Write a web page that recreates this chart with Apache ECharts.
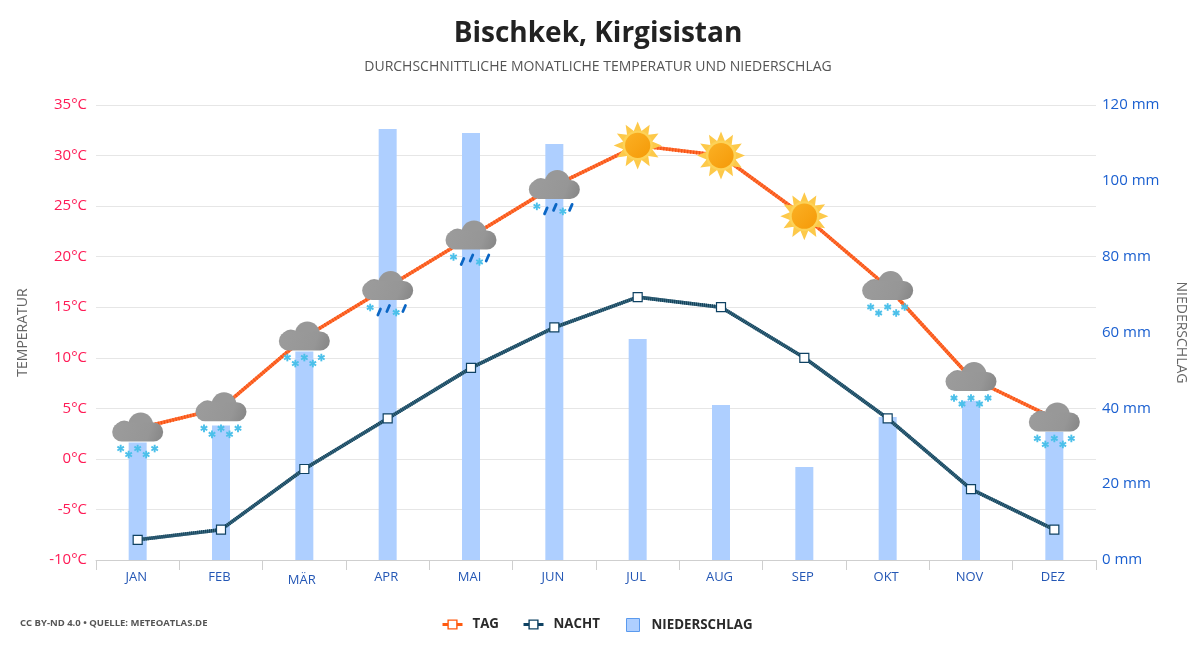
<!DOCTYPE html>
<html><head><meta charset="utf-8">
<style>html,body{margin:0;padding:0;background:#fff}#c{width:1200px;height:650px}</style>
<script src="https://cdn.jsdelivr.net/npm/echarts@6/dist/echarts.min.js"></script>
</head><body><div id="c"></div>
<script>
const months = ['JAN','FEB','MÄR','APR','MAI','JUN','JUL','AUG','SEP','OKT','NOV','DEZ'];
const dayTemps = [3,5,12,17,22,27,31,30,24,17,8,4];
const nightTemps = [-8,-7,-1,4,9,13,16,15,10,4,-3,-7];
const rainfall = [31,35.5,55,113.7,112.6,109.7,58.3,40.9,24.5,37.7,42,33.8];
const weather = ['snow','snow','snow','sleet','sleet','sleet','sun','sun','sun','snow','snow','snow'];

const FONT = '"Open Sans","Noto Sans",sans-serif';

function flake(cx, cy) {
  const r = 3.8, arms = [];
  for (let a = 0; a < 3; a++) {
    const t = a * Math.PI / 3 + Math.PI / 2;
    arms.push({type:'line', shape:{x1:cx - r*Math.cos(t), y1:cy - r*Math.sin(t), x2:cx + r*Math.cos(t), y2:cy + r*Math.sin(t)},
      style:{stroke:'#4cc0ea', lineWidth:1.9}});
  }
  return arms;
}
function drop(cx, cy) {
  return {type:'line', shape:{x1:cx - 1.3, y1:cy + 3, x2:cx + 1.3, y2:cy - 3},
    style:{stroke:'#0b66c4', lineWidth:2.8, lineCap:'round'}};
}
function cloud() {
  const fill = new echarts.graphic.LinearGradient(0, 0, 1, 1, [
    {offset:0, color:'#9c9c9c'}, {offset:.7, color:'#969696'}, {offset:1, color:'#858585'}]);
  const grey = {fill:'#989898'};
  return [
    {type:'circle', shape:{cx:-13.5, cy:1.5, r:9.5}, style:grey},
    {type:'circle', shape:{cx:3, cy:-3.5, r:12.5}, style:grey},
    {type:'rect', shape:{x:-25.5, y:-6, width:51, height:19, r:9.5}, style:{fill:fill}}
  ];
}
function sun() {
  const pts = [];
  for (let i = 0; i < 24; i++) {
    const t = i * Math.PI / 12 - Math.PI / 2, r = i % 2 ? 15 : 24;
    pts.push([r * Math.cos(t), r * Math.sin(t)]);
  }
  return [
    {type:'polygon', shape:{points:pts}, style:{fill:'#fdc94a'}},
    {type:'circle', shape:{cx:0, cy:0, r:15}, style:{fill:'#fdd257'}},
    {type:'circle', shape:{cx:0, cy:0, r:12.6},
     style:{fill:new echarts.graphic.LinearGradient(0,0,1,1,[{offset:0,color:'#fbb024'},{offset:1,color:'#f59a08'}])}}
  ];
}
function icon(kind) {
  if (kind === 'sun') return sun();
  let kids = cloud();
  if (kind === 'snow') {
    kids = kids.concat(flake(-17,20), flake(-9,26), flake(0,20), flake(8.5,26), flake(17,20));
  } else {
    kids = kids.concat(flake(-17.5,20.5), flake(8.5,25.5), drop(-8.5,25), drop(0.5,21.5), drop(16.5,21.5));
  }
  return kids;
}

const chart = echarts.init(document.getElementById('c'), null, {renderer:'canvas'});
chart.setOption({
  animation:false,
  backgroundColor:'#fff',
  textStyle:{fontFamily:FONT},
  title:[
    {text:'Bischkek, Kirgisistan', left:593, textAlign:'center', top:15,
     textStyle:{fontFamily:FONT, fontSize:28, fontWeight:'bold', color:'#222'}},
    {text:'DURCHSCHNITTLICHE MONATLICHE TEMPERATUR UND NIEDERSCHLAG', left:593, textAlign:'center', top:55,
     textStyle:{fontFamily:FONT, fontSize:14, fontWeight:'normal', color:'#555'}},
    {text:'CC BY-ND 4.0 • QUELLE: METEOATLAS.DE', left:15, top:613,
     textStyle:{fontFamily:FONT, fontSize:9.5, fontWeight:'bold', color:'#555'}}
  ],
  grid:{left:96, right:104, top:105, bottom:90, containLabel:false},
  legend:[
    {left:436, top:613, itemWidth:20, itemHeight:11, itemGap:23,
     data:[
       {name:'TAG', itemStyle:{color:'#fff', borderColor:'#ff5a10', borderWidth:1.4}, lineStyle:{color:'#ff5a10', type:'solid', width:3}},
       {name:'NACHT', itemStyle:{color:'#fff', borderColor:'#0f4263', borderWidth:1.4}, lineStyle:{color:'#0f4263', type:'solid', width:3}}
     ],
     textStyle:{fontFamily:FONT, fontSize:13.3, fontWeight:'bold', color:'#2a2a2a', padding:[0,0,0,5]}},
    {left:621, top:613, itemWidth:13, itemHeight:13,
     data:[{name:'NIEDERSCHLAG', icon:'rect', itemStyle:{color:'#aecfff', borderColor:'#5a9aee', borderWidth:1}}],
     textStyle:{fontFamily:FONT, fontSize:13.3, fontWeight:'bold', color:'#2a2a2a', padding:[0,0,0,7]}}
  ],
  xAxis:{type:'category', boundaryGap:true,
    data:months.map(m => m === 'MÄR' ? {value:m, textStyle:{padding:[3,5,0,0]}} : m),
    axisLine:{onZero:false, lineStyle:{color:'#cfcfcf', width:1}},
    axisTick:{show:true, length:10, alignWithLabel:false, lineStyle:{color:'#cfcfcf'}},
    axisLabel:{color:'#2457b5', fontSize:13, margin:11, fontFamily:FONT, interval:0, padding:[0,3,0,0]},
    splitLine:{show:false}},
  yAxis:[
    {type:'value', min:-10, max:35, interval:5,
     name:'TEMPERATUR', nameLocation:'middle', nameGap:66, nameRotate:90,
     nameTextStyle:{color:'#666', fontSize:14, fontFamily:FONT},
     axisLabel:{formatter:'{value}°C', color:'#ff1a55', fontSize:15, margin:9, fontFamily:FONT, padding:[4,0,0,0]},
     axisLine:{show:false}, axisTick:{show:false},
     splitLine:{lineStyle:{color:'#e6e6e6', width:1}}},
    {type:'value', min:0, max:120, interval:20, position:'right',
     name:'NIEDERSCHLAG', nameLocation:'middle', nameGap:78, nameRotate:-90,
     nameTextStyle:{color:'#666', fontSize:14, fontFamily:FONT},
     axisLabel:{formatter:'{value} mm', color:'#1a5fd0', fontSize:15, margin:6, fontFamily:FONT, padding:[4,0,0,0]},
     axisLine:{show:false}, axisTick:{show:false}, splitLine:{show:false}}
  ],
  series:[
    {name:'NIEDERSCHLAG', type:'bar', yAxisIndex:1, data:rainfall, barWidth:18,
     itemStyle:{color:'#aecfff'}, z:2},
    {name:'dayBase', type:'line', data:dayTemps, symbol:'none', lineStyle:{color:'#ff6d33', width:3.6}, z:3, silent:true},
    {name:'TAG', type:'line', data:dayTemps, symbol:'rect', symbolSize:9,
     itemStyle:{color:'#fff', borderColor:'#ff5a10', borderWidth:1.2},
     lineStyle:{color:'#f4500f', width:3.6, type:[1,2]}, z:4},
    {name:'nightBase', type:'line', data:nightTemps, symbol:'none', lineStyle:{color:'#3f6f85', width:3.6}, z:3, silent:true},
    {name:'NACHT', type:'line', data:nightTemps, symbol:'rect', symbolSize:9,
     itemStyle:{color:'#fff', borderColor:'#0f4263', borderWidth:1.2},
     lineStyle:{color:'#123f58', width:3.6, type:[1,1]}, z:4},
    {name:'wetter', type:'custom', data:dayTemps.map((v,i)=>[i,v]), z:6, encode:{x:0,y:1},
     renderItem:function(params, api){
       const p = api.coord([api.value(0), api.value(1)]);
       return {type:'group', x:p[0], y:p[1], children:icon(weather[params.dataIndex])};
     }}
  ]
});
</script></body></html>
